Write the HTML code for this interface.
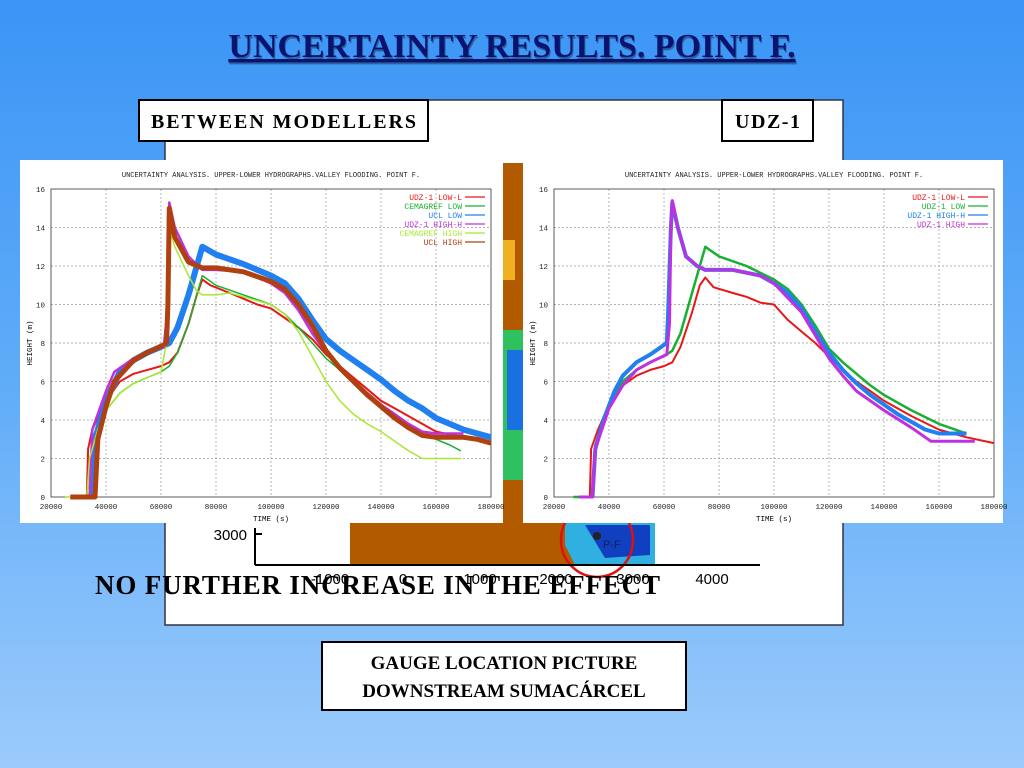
<!DOCTYPE html>
<html><head><meta charset="utf-8"><style>
html,body{margin:0;padding:0;width:1024px;height:768px;overflow:hidden}
body{background:linear-gradient(#3b95f6,#60acf8 50%,#9ccbfb);font-family:"Liberation Serif",serif}
svg text{font-family:"Liberation Mono",monospace}
</style></head><body>
<svg width="1024" height="768" viewBox="0 0 1024 768">
<text x="513" y="59" text-anchor="middle" style="font-family:'Liberation Serif',serif;font-weight:bold;font-size:34px;text-decoration:underline" fill="#000" opacity="0.35">UNCERTAINTY RESULTS. POINT F.</text>
<text x="512" y="57" text-anchor="middle" style="font-family:'Liberation Serif',serif;font-weight:bold;font-size:34px;text-decoration:underline" fill="#0a1470">UNCERTAINTY RESULTS. POINT F.</text>
<rect x="165" y="100" width="678" height="525" fill="#fff" stroke="#334" stroke-width="1.5"/>
<g>
<rect x="350" y="520" width="305" height="45" fill="#b25a00"/>
<rect x="503" y="163" width="20" height="360" fill="#b25a00"/>
<rect x="503" y="330" width="20" height="150" fill="#2fc060"/>
<rect x="507" y="350" width="16" height="80" fill="#1a70e0"/>
<rect x="503" y="240" width="12" height="40" fill="#f0b020"/>
<path d="M565 520 L655 520 L655 565 L575 565 L565 545Z" fill="#30b0e0"/>
<path d="M585 525 L650 525 L650 555 L605 558Z" fill="#1040c0"/>
<circle cx="597" cy="536" r="4" fill="#222"/>
<text x="603" y="548" font-size="11" fill="#102060" style="font-family:'Liberation Sans',sans-serif">P-F</text>
<ellipse cx="597" cy="540" rx="36" ry="37" fill="none" stroke="#e01010" stroke-width="2.5"/>
<line x1="255" y1="565" x2="760" y2="565" stroke="#000" stroke-width="2"/>
<line x1="255" y1="528" x2="255" y2="565" stroke="#000" stroke-width="2"/>
<line x1="255" y1="534" x2="262" y2="534" stroke="#000" stroke-width="2"/>
<text x="247" y="540" text-anchor="end" font-size="15" style="font-family:'Liberation Sans',sans-serif">3000</text>
<text x="330" y="584" text-anchor="middle" font-size="15" style="font-family:'Liberation Sans',sans-serif">-1000</text>
<text x="403" y="584" text-anchor="middle" font-size="15" style="font-family:'Liberation Sans',sans-serif">0</text>
<text x="480" y="584" text-anchor="middle" font-size="15" style="font-family:'Liberation Sans',sans-serif">1000</text>
<text x="556" y="584" text-anchor="middle" font-size="15" style="font-family:'Liberation Sans',sans-serif">2000</text>
<text x="633" y="584" text-anchor="middle" font-size="15" style="font-family:'Liberation Sans',sans-serif">3000</text>
<text x="712" y="584" text-anchor="middle" font-size="15" style="font-family:'Liberation Sans',sans-serif">4000</text>
</g>
<rect x="139" y="100" width="289" height="41" fill="#fff" stroke="#000" stroke-width="2"/>
<text x="151" y="128" textLength="265" style="font-family:'Liberation Serif',serif;font-weight:bold;font-size:20px">BETWEEN MODELLERS</text>
<rect x="722" y="100" width="91" height="41" fill="#fff" stroke="#000" stroke-width="2"/>
<text x="735" y="128" textLength="65" style="font-family:'Liberation Serif',serif;font-weight:bold;font-size:20px">UDZ-1</text>
<g id="c1"></g>
<g id="c2"></g>
<text x="95" y="594" textLength="565" style="font-family:'Liberation Serif',serif;font-weight:bold;font-size:27px">NO FURTHER INCREASE IN THE EFFECT</text>
<rect x="322" y="642" width="364" height="68" fill="#fff" stroke="#000" stroke-width="2"/>
<text x="504" y="669" text-anchor="middle" style="font-family:'Liberation Serif',serif;font-weight:bold;font-size:19px">GAUGE LOCATION PICTURE</text>
<text x="504" y="697" text-anchor="middle" style="font-family:'Liberation Serif',serif;font-weight:bold;font-size:19px">DOWNSTREAM SUMACÁRCEL</text>
</svg>
<script>
const xTicks=[20000,40000,60000,80000,100000,120000,140000,160000,180000];
const yTicks=[0,2,4,6,8,10,12,14,16];
const leftNames=["UDZ-1 LOW-L","CEMAGREF LOW","UCL LOW","UDZ-1 HIGH-H","CEMAGREF HIGH","UCL HIGH"];
const leftColors=["#e81818","#18b030","#2080f0","#c030e0","#a8e830","#b04010"];
const leftWidths=[2,1.5,6,2.5,1.5,5];
const L1_t=[33000,33500,35000,40000,45000,50000,55000,60000,63000,66000,70000,73000,75000,78000,85000,90000,95000,100000,105000,110000,115000,120000,125000,130000,135000,140000,145000,150000,155000,160000,170000,180000];
const L1_h=[0,2.5,3.5,5,6,6.4,6.6,6.8,7,7.5,9,10.5,11.3,11,10.6,10.3,10,9.8,9.3,8.8,8.2,7.4,6.8,6.2,5.6,5,4.6,4.2,3.8,3.4,3.1,2.8];
const L2_t=[33000,34000,37000,40000,45000,50000,55000,60000,63000,66000,70000,73000,75000,80000,90000,100000,105000,110000,115000,120000,125000,130000,135000,140000,145000,150000,155000,160000,165000,169000];
const L2_h=[0,2,3.5,4.5,5.4,5.9,6.2,6.5,6.8,7.5,9,10.5,11.5,11,10.5,10,9.5,8.8,8,7.2,6.6,6,5.4,4.8,4.3,3.8,3.3,3,2.7,2.4];
const L3_t=[35000,36000,40000,45000,50000,55000,60000,63000,66000,70000,73000,75000,80000,90000,100000,105000,110000,115000,120000,125000,130000,135000,140000,145000,150000,155000,160000,170000,180000];
const L3_h=[0,3,5,6.5,7.1,7.5,7.8,8,8.8,10.5,12,13,12.6,12.1,11.5,11.1,10.3,9.2,8.2,7.6,7.1,6.6,6.1,5.5,5,4.6,4.1,3.5,3.1];
const L4_t=[34000,35000,40000,43000,50000,55000,61000,62500,63000,65000,70000,75000,80000,90000,100000,105000,110000,115000,120000,125000,130000,135000,140000,145000,150000,155000,160000,170000];
const L4_h=[0,3.5,5.5,6.5,7.2,7.5,7.8,10,15.3,14,12.5,11.8,11.8,11.7,11.1,10.6,9.7,8.5,7.5,6.7,6,5.4,4.8,4.3,3.8,3.4,3.3,3.3];
const L5_t=[25000,33000,34000,37000,40000,45000,50000,55000,60000,62000,63000,65000,70000,73000,75000,80000,85000,90000,100000,105000,110000,115000,120000,125000,130000,135000,140000,145000,150000,155000,160000,169000];
const L5_h=[0,0,2,3.5,4.5,5.4,5.9,6.2,6.5,8,14,13,11.5,10.7,10.5,10.5,10.6,10.4,10,9.5,8.6,7.3,6,5,4.3,3.8,3.4,2.9,2.4,2,2,2];
const L6_t=[27000,36000,37000,40000,43000,50000,55000,61000,62000,62500,63000,65000,70000,75000,80000,90000,100000,105000,110000,115000,120000,125000,130000,135000,140000,145000,150000,155000,160000,170000,175000,180000];
const L6_h=[0,0,3,4.7,6,7.1,7.5,7.9,8,10,15,13.5,12.2,11.9,11.9,11.7,11.2,10.8,10,8.9,7.6,6.7,6,5.3,4.7,4.1,3.6,3.2,3.1,3.1,3,2.8];
const rightNames=["UDZ-1 LOW-L","UDZ-1 LOW","UDZ-1 HIGH-H","UDZ-1 HIGH"];
const rightColors=["#e81818","#18b030","#2080f0","#c030e0"];
const rightWidths=[2,2.5,4,3];
const R1_t=[33000,33500,36000,40000,45000,50000,55000,60000,63000,66000,70000,73000,75000,78000,85000,90000,95000,100000,105000,110000,115000,120000,125000,130000,135000,140000,150000,160000,170000,180000];
const R1_h=[0,2.5,3.5,4.8,5.8,6.3,6.6,6.8,7,7.8,9.5,11,11.4,10.9,10.6,10.4,10.1,10,9.2,8.6,8,7.3,6.6,6,5.5,5,4.2,3.5,3.1,2.8];
const R2_t=[27000,34000,35000,40000,45000,50000,55000,61000,63000,66000,70000,73000,75000,80000,90000,100000,105000,110000,115000,120000,125000,130000,135000,140000,150000,160000,170000];
const R2_h=[0,0,2.7,4.8,6,6.6,7,7.4,7.6,8.5,10.5,12,13,12.5,12,11.3,10.8,10,8.9,7.7,7,6.4,5.8,5.3,4.5,3.8,3.3];
const R3_t=[34000,35000,38000,42000,45000,50000,55000,61000,61500,62500,63000,65000,68000,72000,75000,85000,95000,100000,105000,110000,115000,120000,125000,130000,135000,140000,145000,150000,155000,160000,170000];
const R3_h=[0,2.5,4,5.5,6.3,7,7.4,8,9.5,14,15.3,14,12.5,12,11.8,11.8,11.5,11.1,10.6,9.8,8.6,7.5,6.6,5.9,5.3,4.8,4.3,3.9,3.5,3.3,3.3];
const R4_t=[29000,34000,35000,40000,45000,50000,55000,61000,62000,62500,63000,65000,68000,72000,75000,85000,95000,100000,110000,115000,120000,125000,130000,140000,150000,157000,173000];
const R4_h=[0,0,2.5,4.6,5.8,6.6,7,7.4,9,14,15.4,14,12.5,12,11.8,11.8,11.5,11.1,9.6,8.4,7.2,6.3,5.5,4.5,3.6,2.9,2.9];
const NS="http://www.w3.org/2000/svg";
function mk(p,tag,at){const e=document.createElementNS(NS,tag);for(const k in at)e.setAttribute(k,at[k]);p.appendChild(e);return e;}
function chart(g,ox,w,series,names,colors,widths){
  mk(g,'rect',{x:ox,y:160,width:w,height:363,fill:'#fff'});
  const X0=ox+31,X1=ox+471,Y0=497,Y1=189;
  const sx=v=>X0+(v-20000)/160000*(X1-X0), sy=v=>Y0-v/16*(Y0-Y1);
  const t=mk(g,'text',{x:(X0+X1)/2,y:177,'text-anchor':'middle','font-size':7,fill:'#222'});t.textContent='UNCERTAINTY ANALYSIS. UPPER-LOWER HYDROGRAPHS.VALLEY FLOODING. POINT F.';
  
  
  xTicks.forEach(v=>{const x=sx(v);
    if(v>20000&&v<180000)mk(g,'line',{x1:x,x2:x,y1:Y1,y2:Y0,stroke:'#999','stroke-width':0.7,'stroke-dasharray':'2,2'});
    const l=mk(g,'text',{x:x,y:509,'text-anchor':'middle','font-size':7.5,fill:'#222'});l.textContent=v;
    
    });
  yTicks.forEach(v=>{const y=sy(v);
    if(v>0&&v<16)mk(g,'line',{x1:X0,x2:X1,y1:y,y2:y,stroke:'#999','stroke-width':0.7,'stroke-dasharray':'2,2'});
    const l=mk(g,'text',{x:X0-6,y:y+3,'text-anchor':'end','font-size':7.5,fill:'#222'});l.textContent=v;
    
    });
  mk(g,'rect',{x:X0,y:Y1,width:X1-X0,height:Y0-Y1,fill:'none',stroke:'#333','stroke-width':0.8});
  const xl=mk(g,'text',{x:(X0+X1)/2,y:521,'text-anchor':'middle','font-size':7.5});xl.textContent='TIME (s)';
  
  
  const yl=mk(g,'text',{x:0,y:0,'text-anchor':'middle','font-size':7.5,transform:`translate(${ox+12},${(Y0+Y1)/2}) rotate(-90)`});yl.textContent='HEIGHT (m)';
  
  
  series.forEach((s,i)=>{
    const d=s[0].map((tv,j)=>(j?'L':'M')+sx(tv).toFixed(1)+' '+sy(s[1][j]).toFixed(1)).join(' ');
    const p=mk(g,'path',{d:d,fill:'none',stroke:colors[i],'stroke-width':widths[i],'stroke-linejoin':'round'});
    
    
    const ly=197+i*9;
    const lt=mk(g,'text',{x:X1-29,y:ly+3,'text-anchor':'end','font-size':8,fill:colors[i]});lt.textContent=names[i];
    
    
    mk(g,'line',{x1:X1-26,x2:X1-6,y1:ly,y2:ly,stroke:colors[i],'stroke-width':1.2});
  });
}
chart(document.getElementById('c1'),20,483,[[L1_t,L1_h],[L2_t,L2_h],[L3_t,L3_h],[L4_t,L4_h],[L5_t,L5_h],[L6_t,L6_h]],leftNames,leftColors,leftWidths);
chart(document.getElementById('c2'),523,480,[[R1_t,R1_h],[R2_t,R2_h],[R3_t,R3_h],[R4_t,R4_h]],rightNames,rightColors,rightWidths);
</script>
</body></html>
